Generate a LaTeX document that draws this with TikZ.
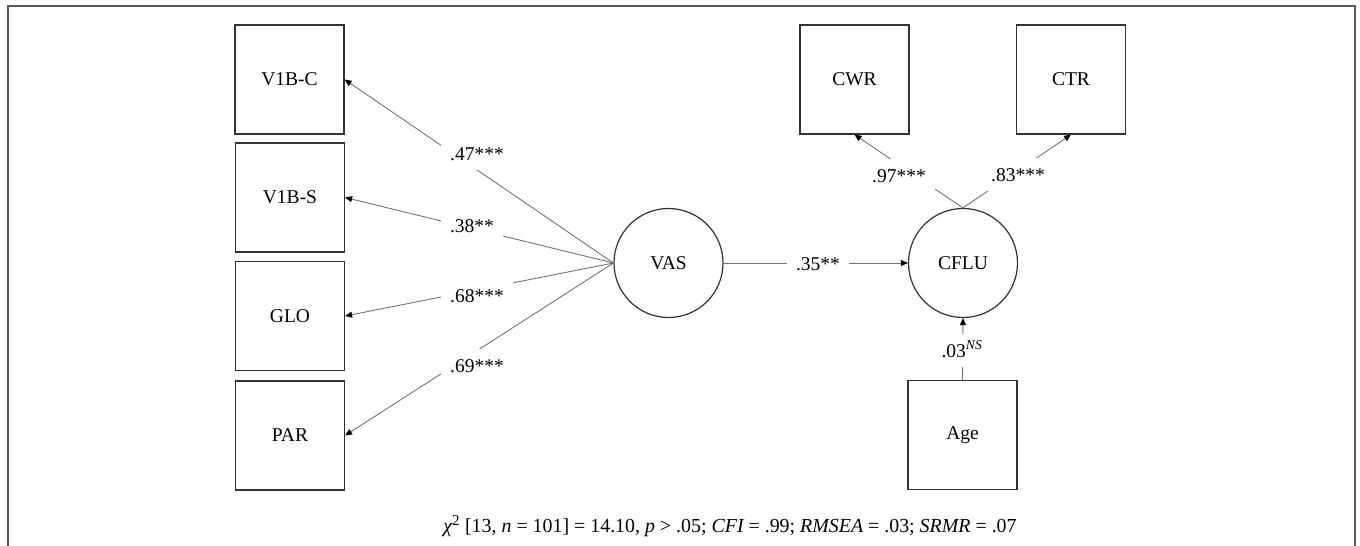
\documentclass[tikz,border=0pt]{standalone}
\usepackage{fontspec}
\setmainfont{Liberation Serif}
\usetikzlibrary{arrows.meta}
\begin{document}
\begin{tikzpicture}[x=1pt,y=-1pt,
  every node/.style={font=\fontsize{19.5}{23}\selectfont},
  obs/.style={draw=black!80, line width=1.2pt, minimum width=109pt, minimum height=109pt, inner sep=0pt},
  lat/.style={draw=black!80, line width=1.2pt, circle, minimum size=109pt, inner sep=0pt},
  conn/.style={draw=black!55, line width=0.9pt, -{Triangle[length=7pt,width=6pt,color=black]}},
  coef/.style={fill=white, inner xsep=9pt, inner ysep=0pt, text height=14pt, text depth=0pt, minimum height=33pt},
  frame/.style={draw=black!65, line width=1.3pt}
]
\useasboundingbox (0,0) rectangle (1360,546);
\draw[frame] (8,546) -- (8,6) -- (1355,6) -- (1355,546);

% observed indicators
\node[obs] (v1c) at (289.5,79.5) {V1B-C};
\node[obs] (v1s) at (290,197.5) {V1B-S};
\node[obs] (glo) at (290,316) {GLO};
\node[obs] (par) at (290,435.5) {PAR};
\node[obs] (cwr) at (854.5,79.5) {CWR};
\node[obs] (ctr) at (1071,79.5) {CTR};
\node[obs] (age) at (962.5,435) {Age};

% latent variables
\node[lat] (vas) at (668.5,263) {VAS};
\node[lat] (cflu) at (963,263) {CFLU};

% connectors
\draw[conn] (vas.west) -- (v1c.east);
\draw[conn] (vas.west) -- (v1s.east);
\draw[conn] (vas.west) -- (glo.east);
\draw[conn] (vas.west) -- (par.east);
\draw[conn] (vas.east) -- (cflu.west);
\draw[conn] (cflu.north) -- (cwr.south);
\draw[conn] (cflu.north) -- (ctr.south);
\draw[conn] (age.north) -- (cflu.south);

% coefficients
\node[coef] (l47) at (477,153) {.47***};
\node[coef] (l38) at (472,225) {.38**};
\node[coef] (l68) at (477,295) {.68***};
\node[coef] (l69) at (477,365) {.69***};
\node[coef] (l35) at (818,263) {.35**};
\node[coef] (l97) at (899,175) {.97***};
\node[coef] (l83) at (1018,174) {.83***};
\node[coef] (l03) at (962,350) {.03\textsuperscript{\itshape NS}};

% fit indices
\node[font=\fontsize{19.9}{23}\selectfont] (fit) at (730,526) {{\itshape χ}\textsuperscript{\fontsize{15}{15}\selectfont 2} [13, {\itshape n} = 101] = 14.10, {\itshape p} > .05; {\itshape CFI} = .99; {\itshape RMSEA} = .03; {\itshape SRMR} = .07};
\end{tikzpicture}
\end{document}
